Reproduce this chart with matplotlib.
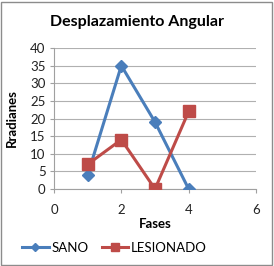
import matplotlib
matplotlib.use("Agg")
import matplotlib.pyplot as plt
from matplotlib.patches import Rectangle

plt.rcParams["font.family"] = ["Lato", "DejaVu Sans"]

# Data
fases = [1, 2, 3, 4]
sano = [4, 35, 19, 0]
lesionado = [7, 14, 0, 22]

BLUE = "#4A7EBB"
RED = "#BE4B48"

fig = plt.figure(figsize=(2.74, 2.66), dpi=100)
ax = fig.add_axes([54 / 274, 1 - 189 / 266, 202 / 274, 141 / 266])

ax.plot(fases, sano, color=BLUE, lw=2.2, marker="D", ms=6, label="SANO", zorder=3)
ax.plot(fases, lesionado, color=RED, lw=2.2, marker="s", ms=8, label="LESIONADO", zorder=3)

ax.set_xlim(0, 6)
ax.set_ylim(0, 40)
ax.set_xticks([0, 2, 4, 6])
ax.set_yticks(range(0, 41, 5))
ax.grid(axis="y", color="#b0b0b0", lw=0.8)
ax.set_axisbelow(True)
for s in ["top", "right"]:
    ax.spines[s].set_visible(False)
for s in ["left", "bottom"]:
    ax.spines[s].set_color("#a0a0a0")
ax.tick_params(colors="#a0a0a0", labelcolor="#222222", labelsize=9.5, length=3, pad=3)
ax.tick_params(axis="x", pad=8)

ax.set_xlabel("Fases", fontsize=9.5, fontweight="bold", labelpad=1)
ax.set_ylabel("Rradianes", fontsize=9.5, fontweight="bold", labelpad=9)
fig.text(0.5, 1 - 22 / 266, "Desplazamiento Angular", ha="center", va="center",
         fontsize=11.5, fontweight="bold")

fig.legend(loc="center left", bbox_to_anchor=(17 / 274, 1 - 248 / 266), ncol=2,
           frameon=False, fontsize=9.5, handlelength=2.0, handletextpad=0.2,
           columnspacing=1.0, borderaxespad=0, markerscale=0.75)

fig.patches.append(Rectangle((1 / 274, 1 / 266), 271 / 274, 263 / 266,
                             transform=fig.transFigure, fill=False,
                             edgecolor="#8c8c8c", lw=1))

fig.savefig("out.png", dpi=100)
